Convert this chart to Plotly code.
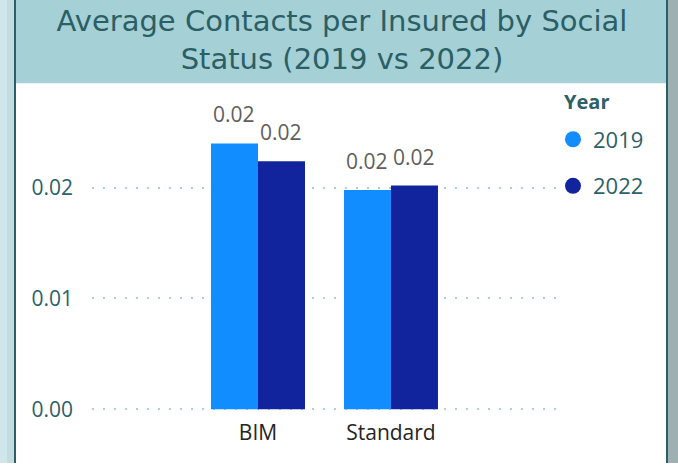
import plotly.graph_objects as go

# ---- data ----
categories = ["BIM", "Standard"]
years = ["2019", "2022"]
values_2019 = [0.0240, 0.0198]
values_2022 = [0.0224, 0.0202]
y_tick_vals = [0.00, 0.01, 0.02]
y_tick_text = ["0.00", "0.01", "0.02"]
title_text = "Average Contacts per Insured by Social<br>Status (2019 vs 2022)"
legend_title = "Year"

colors = {"2019": "#118DFF", "2022": "#12239E"}
series = {"2019": values_2019, "2022": values_2022}

W, H = 678, 473
def px(x):
    return x / W
def py(y):
    return 1 - y / H

fig = go.Figure()
for yr in years:
    fig.add_trace(go.Bar(
        x=categories, y=series[yr], name=yr,
        marker=dict(color=colors[yr], line=dict(width=0)),
        showlegend=False, offsetgroup=yr,
    ))
for yr in years:
    fig.add_trace(go.Scatter(
        x=[None], y=[None], mode="markers", name=yr,
        marker=dict(color=colors[yr], size=19, symbol="circle"),
        legendgroup=yr, showlegend=True,
    ))

bar_half = 23.5
for i, yr in enumerate(years):
    shift = -bar_half if i == 0 else bar_half
    for c, v in zip(categories, series[yr]):
        fig.add_annotation(
            x=c, y=v, xref="x", yref="y", text=f"{v:.2f}",
            showarrow=False, xshift=shift, yshift=13, yanchor="bottom",
            font=dict(family="Open Sans", size=21, color="#605E5C"),
        )

fig.add_annotation(
    x=px(562), y=py(104), xref="paper", yref="paper", text=f"<b>{legend_title}</b>",
    showarrow=False, xanchor="left", yanchor="middle",
    font=dict(family="Open Sans", size=20, color="#2D6067"),
)

shapes = [
    dict(type="rect", xref="paper", yref="paper", x0=0, x1=px(7), y0=0, y1=1,
         fillcolor="#D0E6EA", line=dict(width=0), layer="below"),
    dict(type="rect", xref="paper", yref="paper", x0=px(7), x1=px(14), y0=0, y1=1,
         fillcolor="#C3DCE0", line=dict(width=0), layer="below"),
    dict(type="rect", xref="paper", yref="paper", x0=px(668), x1=1, y0=0, y1=1,
         fillcolor="#9FB0B3", line=dict(width=0), layer="below"),
    dict(type="rect", xref="paper", yref="paper", x0=px(16), x1=px(666), y0=py(85), y1=1,
         fillcolor="#A4D0D6", line=dict(width=0), layer="below"),
    dict(type="rect", xref="paper", yref="paper", x0=px(14), x1=px(16), y0=0, y1=1,
         fillcolor="#2D5F66", line=dict(width=0), layer="below"),
    dict(type="rect", xref="paper", yref="paper", x0=px(666), x1=px(668), y0=0, y1=1,
         fillcolor="#2D5F66", line=dict(width=0), layer="below"),
]

fig.update_layout(
    width=W, height=H,
    margin=dict(l=0, r=0, t=0, b=0, pad=0),
    paper_bgcolor="white", plot_bgcolor="rgba(0,0,0,0)",
    barmode="group", bargap=0.293, bargroupgap=0,
    shapes=shapes,
    title=dict(text=title_text, x=px(342), xanchor="center", y=py(31), yanchor="middle",
               font=dict(family="DejaVu Sans", size=29, color="#2B5F65")),
    xaxis=dict(domain=[px(92), px(562)], range=[-1.248, 2.286],
               showgrid=False, zeroline=False, showline=False, ticks="",
               ticklabelstandoff=6,
               tickfont=dict(family="Open Sans", size=21, color="#252423")),
    yaxis=dict(domain=[py(421.4), py(100)], range=[-0.0003, 0.02812],
               tickvals=y_tick_vals, ticktext=y_tick_text,
               showgrid=True, gridcolor="#A9D3D8", gridwidth=2, griddash="2px,9px",
               zeroline=False, showline=False, ticks="", ticklabelstandoff=18,
               tickfont=dict(family="Open Sans", size=21, color="#2D6067")),
    legend=dict(x=px(553), xanchor="left", y=py(121), yanchor="top",
                traceorder="grouped", tracegroupgap=15, itemsizing="trace",
                bgcolor="rgba(0,0,0,0)",
                font=dict(family="Open Sans", size=22, color="#2D6067")),
    showlegend=True,
)

fig.write_html("out.html", config={"displayModeBar": False},
               post_script="document.body.style.margin='0';")
